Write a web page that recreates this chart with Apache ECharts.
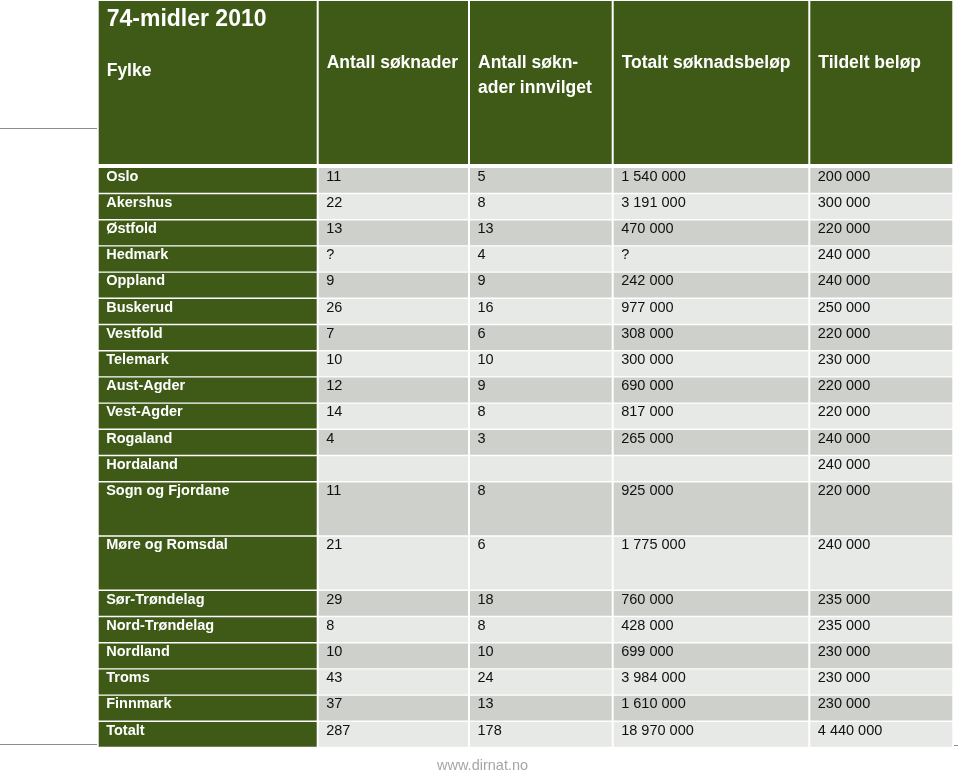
<!DOCTYPE html>
<html>
<head>
<meta charset="utf-8">
<script src="https://cdn.jsdelivr.net/npm/echarts@6/dist/echarts.min.js"></script>
<style>html,body{margin:0;padding:0;background:#fff;}#chart{width:960px;height:773px;}</style>
</head>
<body>
<div id="chart"></div>
<script>
const title = '74-midler 2010';
const headers = ['Fylke', 'Antall søknader', 'Antall søkn-\nader innvilget', 'Totalt søknadsbeløp', 'Tildelt beløp'];
const fylker = ['Oslo','Akershus','Østfold','Hedmark','Oppland','Buskerud','Vestfold','Telemark','Aust-Agder','Vest-Agder','Rogaland','Hordaland','Sogn og Fjordane','Møre og Romsdal','Sør-Trøndelag','Nord-Trøndelag','Nordland','Troms','Finnmark','Totalt'];
const antallSoknader = [11,22,13,'?',9,26,7,10,12,14,4,null,11,21,29,8,10,43,37,287];
const antallInnvilget = [5,8,13,4,9,16,6,10,9,8,3,null,8,6,18,8,10,24,13,178];
const totaltBelop = [1540000,3191000,470000,'?',242000,977000,308000,300000,690000,817000,265000,null,925000,1775000,760000,428000,699000,3984000,1610000,18970000];
const tildeltBelop = [200000,300000,220000,240000,240000,250000,220000,230000,220000,220000,240000,240000,220000,240000,235000,235000,230000,230000,230000,4440000];
const footer = 'www.dirnat.no';

// layout (table geometry in axis units)
const colEdges = [0, 220, 371.3, 515, 711.6, 855.6];
const headerHeight = 163;
const bodyStart = 167;
const rowHeights = fylker.map((f, i) => (i === 12 || i === 13) ? 54.3 : 26.2);
const rowTops = [];
rowHeights.reduce((acc, h) => { rowTops.push(acc); return acc + h; }, bodyStart);
const tableHeight = bodyStart + rowHeights.reduce((a, b) => a + b, 0);
const tableWidth = colEdges[colEdges.length - 1];

const GREEN = '#3e5a16';
const DARK = '#cdd0cb';
const LIGHT = '#e7e9e6';
const FONT = '"Liberation Sans", Arial, Helvetica, sans-serif';

function fmt(v) {
  if (v === null || v === undefined) return '';
  if (typeof v === 'string') return v;
  return String(v).replace(/\B(?=(\d{3})+(?!\d))/g, ' ');
}

const cols = [fylker, antallSoknader, antallInnvilget, totaltBelop, tildeltBelop];
const bodyCells = [];
fylker.forEach((f, r) => {
  cols.forEach((arr, c) => {
    bodyCells.push({ value: [c, r], text: c === 0 ? arr[r] : fmt(arr[r]) });
  });
});
const headerCells = headers.map((h, c) => ({ value: [c, 0], text: h }));

function cellRect(api, c, y0, h) {
  const p0 = api.coord([colEdges[c], y0]);
  const p1 = api.coord([colEdges[c + 1] - 2, y0 + h]);
  return { x: p0[0], y: p0[1], width: p1[0] - p0[0], height: p1[1] - p0[1] };
}

const chart = echarts.init(document.getElementById('chart'), null, { renderer: 'canvas' });
chart.setOption({
  animation: false,
  backgroundColor: '#ffffff',
  grid: { left: 98.7, top: 1, width: tableWidth, height: tableHeight },
  xAxis: { type: 'value', min: 0, max: tableWidth, show: false },
  yAxis: { type: 'value', min: 0, max: tableHeight, inverse: true, show: false },
  graphic: [
    { type: 'line', shape: { x1: 0, y1: 128.5, x2: 97, y2: 128.5 }, style: { stroke: '#8c8c8c', lineWidth: 1 } },
    { type: 'line', shape: { x1: 0, y1: 744.5, x2: 97, y2: 744.5 }, style: { stroke: '#8c8c8c', lineWidth: 1 } },
    { type: 'line', shape: { x1: 954, y1: 745.5, x2: 958, y2: 745.5 }, style: { stroke: '#8c8c8c', lineWidth: 1 } },
    { type: 'text', left: 437, top: 758, style: { text: footer, fill: '#a6a6a6', font: '14.5px ' + FONT } }
  ],
  series: [
    {
      type: 'custom',
      coordinateSystem: 'cartesian2d',
      data: headerCells,
      renderItem: function (params, api) {
        const c = api.value(0);
        const rc = cellRect(api, c, 0, headerHeight);
        const children = [{ type: 'rect', shape: rc, style: { fill: GREEN } }];
        const tx = rc.x + 8;
        if (c === 0) {
          children.push({ type: 'text', style: { text: title, x: tx, y: rc.y + 18.5, fill: '#fff', font: 'bold 23px ' + FONT, verticalAlign: 'middle' } });
          children.push({ type: 'text', style: { text: headerCells[params.dataIndex].text, x: tx, y: rc.y + 70, fill: '#fff', font: 'bold 17.5px ' + FONT, verticalAlign: 'middle' } });
        } else {
          children.push({ type: 'text', style: { text: headerCells[params.dataIndex].text, x: tx, y: rc.y + 50, fill: '#fff', font: 'bold 17.5px ' + FONT, verticalAlign: 'top', lineHeight: 25 } });
        }
        return { type: 'group', children: children };
      }
    },
    {
      type: 'custom',
      coordinateSystem: 'cartesian2d',
      data: bodyCells,
      renderItem: function (params, api) {
        const c = api.value(0);
        const r = api.value(1);
        const rc = cellRect(api, c, rowTops[r], rowHeights[r] - 1.4);
        const fill = c === 0 ? GREEN : (r % 2 === 0 ? DARK : LIGHT);
        return {
          type: 'group',
          children: [
            { type: 'rect', shape: rc, style: { fill: fill } },
            { type: 'text', style: {
              text: bodyCells[params.dataIndex].text,
              x: rc.x + 7.5, y: rc.y + 8.5,
              fill: c === 0 ? '#ffffff' : '#111111',
              font: (c === 0 ? 'bold ' : '') + '14.5px ' + FONT,
              verticalAlign: 'middle'
            } }
          ]
        };
      }
    }
  ]
});
</script>
</body>
</html>
